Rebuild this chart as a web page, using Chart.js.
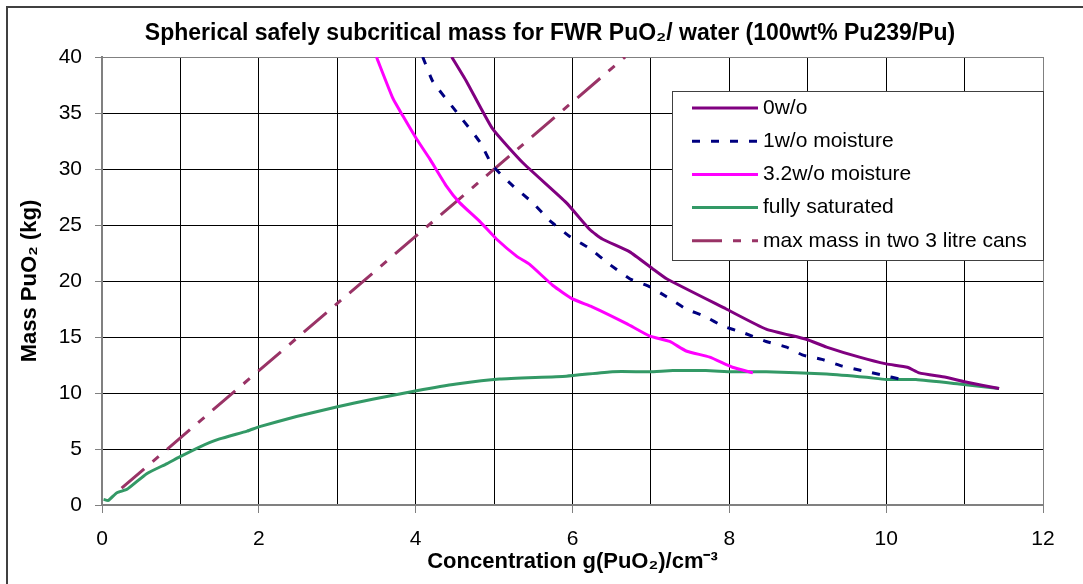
<!DOCTYPE html>
<html>
<head>
<meta charset="utf-8">
<script src="https://cdn.jsdelivr.net/npm/chart.js@4.4.1/dist/chart.umd.min.js"></script>
<style>
  html, body { margin: 0; padding: 0; background: #fff; }
  #wrap { width: 1083px; height: 584px; position: relative; }
</style>
</head>
<body>
<div id="wrap"><canvas id="chart"></canvas></div>
<script>
// ── DATA ────────────────────────────────────────────────────────────────────
const seriesLabels = ['0w/o', '1w/o moisture', '3.2w/o moisture', 'fully saturated', 'max mass in two 3 litre cans'];

const conc0 = [4.46, 4.65, 4.98, 5.36, 5.92, 6.22, 6.38, 6.73, 7.02, 7.2, 7.96, 8.47, 8.98, 9.24, 9.66, 10.0, 10.27, 10.42, 10.76, 11.0, 11.44];
const mass0 = [40, 37.8, 33.6, 30.6, 27.0, 24.6, 23.75, 22.6, 21.1, 20.2, 17.5, 15.7, 14.8, 14.1, 13.2, 12.6, 12.3, 11.8, 11.4, 11.0, 10.4];

const conc1 = [4.09, 4.22, 4.52, 4.82, 4.98, 5.24, 5.49, 5.71, 5.96, 6.22, 6.47, 6.73, 6.98, 7.2, 7.45, 7.7, 7.91, 8.17, 8.47, 8.73, 8.93, 9.18, 9.44, 9.69, 9.95, 10.2];
const mass1 = [40, 37.8, 35.1, 32.4, 30.3, 28.5, 27.0, 25.4, 24.0, 22.9, 21.5, 20.2, 19.5, 18.6, 17.5, 16.8, 16.0, 15.4, 14.6, 14.1, 13.4, 13.0, 12.4, 12.0, 11.6, 11.2];

const conc32 = [3.5, 3.71, 3.84, 4.01, 4.18, 4.39, 4.56, 4.82, 5.03, 5.29, 5.45, 5.75, 6.0, 6.25, 6.69, 6.98, 7.24, 7.45, 7.75, 8.04, 8.3];
const mass32 = [40, 36.3, 34.7, 32.7, 30.9, 28.5, 27.0, 25.3, 23.75, 22.2, 21.5, 19.6, 18.4, 17.7, 16.2, 15.1, 14.6, 13.75, 13.2, 12.3, 11.8];

const concSat = [0.02, 0.08, 0.19, 0.32, 0.57, 0.83, 0.99, 1.25, 1.5, 1.85, 2.01, 2.48, 2.99, 3.45, 4.01, 4.52, 5.07, 5.92, 6.51, 6.98, 7.28, 7.7, 8.04, 8.47, 9.24, 9.75, 10.0, 10.38, 10.93, 11.44];
const massSat = [0.5, 0.4, 1.1, 1.4, 2.8, 3.7, 4.3, 5.2, 5.9, 6.6, 7.0, 7.9, 8.75, 9.45, 10.2, 10.8, 11.25, 11.5, 11.9, 11.9, 12.0, 12.0, 11.9, 11.9, 11.7, 11.4, 11.2, 11.2, 10.8, 10.4];

const concCans = [0.25, 6.67];
const massCans = [1.5, 40];

const xTicks = [0, 2, 4, 6, 8, 10, 12];
const yTicks = [0, 5, 10, 15, 20, 25, 30, 35, 40];

const FONT = "'Liberation Sans', Arial, sans-serif";

const pts = (xs, ys) => xs.map((x, i) => ({ x, y: ys[i] }));

function line(label, xs, ys, color, dash) {
  return {
    label, data: pts(xs, ys), showLine: true, borderColor: color, backgroundColor: color,
    borderWidth: 3, borderDash: dash || [], pointRadius: 0, pointHoverRadius: 0, tension: 0.15,
    borderCapStyle: 'butt'
  };
}

// ── PLUGINS ─────────────────────────────────────────────────────────────────
const frame = {
  id: 'frame',
  afterDraw(chart) {
    const c = chart.ctx;
    c.save();
    c.strokeStyle = '#404040';
    c.lineWidth = 2;
    c.beginPath();
    c.moveTo(7, 584); c.lineTo(7, 7); c.lineTo(1083, 7);
    c.stroke();
    // title
    c.fillStyle = '#000';
    c.font = `bold 23px ${FONT}`;
    c.textAlign = 'center';
    c.textBaseline = 'middle';
    c.fillText('Spherical safely subcritical mass for FWR PuO\u2082/ water (100wt% Pu239/Pu)', 550, 34);
    c.restore();
  }
};

const boxLegend = {
  id: 'boxLegend',
  afterDatasetsDraw(chart) {
    const c = chart.ctx;
    const x0 = 672, y0 = 91, w = 371, h = 169;
    c.save();
    c.fillStyle = '#fff';
    c.fillRect(x0, y0, w, h);
    c.strokeStyle = '#404040';
    c.lineWidth = 1;
    c.strokeRect(x0 + 0.5, y0 + 0.5, w, h);
    c.font = `21px ${FONT}`;
    c.textBaseline = 'middle';
    c.textAlign = 'left';
    chart.data.datasets.forEach((ds, i) => {
      const y = 108 + i * 33.2;
      c.strokeStyle = ds.borderColor;
      c.lineWidth = 3;
      c.setLineDash(ds.borderDash || []);
      c.beginPath();
      c.moveTo(692, y); c.lineTo(758, y);
      c.stroke();
      c.setLineDash([]);
      c.fillStyle = '#000';
      c.fillText(ds.label, 763, y);
    });
    c.restore();
  }
};

// ── CHART ───────────────────────────────────────────────────────────────────
new Chart(document.getElementById('chart').getContext('2d'), {
  type: 'scatter',
  data: {
    datasets: [
      line(seriesLabels[0], conc0, mass0, '#800080'),
      line(seriesLabels[1], conc1, mass1, '#000080', [8, 11]),
      line(seriesLabels[2], conc32, mass32, '#ff00ff'),
      line(seriesLabels[3], concSat, massSat, '#339966'),
      line(seriesLabels[4], concCans, massCans, '#993366', [30, 11, 8, 11])
    ]
  },
  options: {
    responsive: true, maintainAspectRatio: false, animation: false,
    layout: { padding: { top: 57, right: 40, left: 0, bottom: 0 } },
    plugins: { legend: { display: false }, tooltip: { enabled: false } },
    scales: {
      x: {
        type: 'linear', min: 0, max: 12,
        afterFit: s => { s.height = 79; },
        ticks: {
          stepSize: 1, color: '#000', font: { family: FONT, size: 21 }, padding: 14, maxRotation: 0,
          callback: v => (xTicks.includes(v) ? v : '')
        },
        grid: {
          color: c => (c.tick && c.tick.value === 12 ? '#808080' : '#000'),
          lineWidth: 1, tickLength: 8,
          tickColor: c => (c.tick && c.tick.value % 2 === 0 ? '#808080' : 'rgba(0,0,0,0)')
        },
        border: { color: '#808080', width: 2 },
        title: {
          display: true, text: 'Concentration g(PuO\u2082)/cm\u207B\u00B3', color: '#000',
          font: { family: FONT, size: 22, weight: 'bold' }, padding: { top: 0, bottom: 9 }
        }
      },
      y: {
        type: 'linear', min: 0, max: 40,
        afterFit: s => { s.width = 102; },
        ticks: {
          stepSize: 5, color: '#000', font: { family: FONT, size: 21 }, padding: 13,
          callback: v => (yTicks.includes(v) ? v : '')
        },
        grid: {
          color: c => (c.tick && c.tick.value === 40 ? '#808080' : '#000'),
          lineWidth: 1, tickLength: 7, tickColor: '#808080'
        },
        border: { color: '#808080', width: 2 },
        title: {
          display: true, text: 'Mass PuO\u2082 (kg)', color: '#000',
          font: { family: FONT, size: 22, weight: 'bold' }, padding: { top: 17, bottom: 0 }
        }
      }
    }
  },
  plugins: [boxLegend, frame]
});
</script>
</body>
</html>
